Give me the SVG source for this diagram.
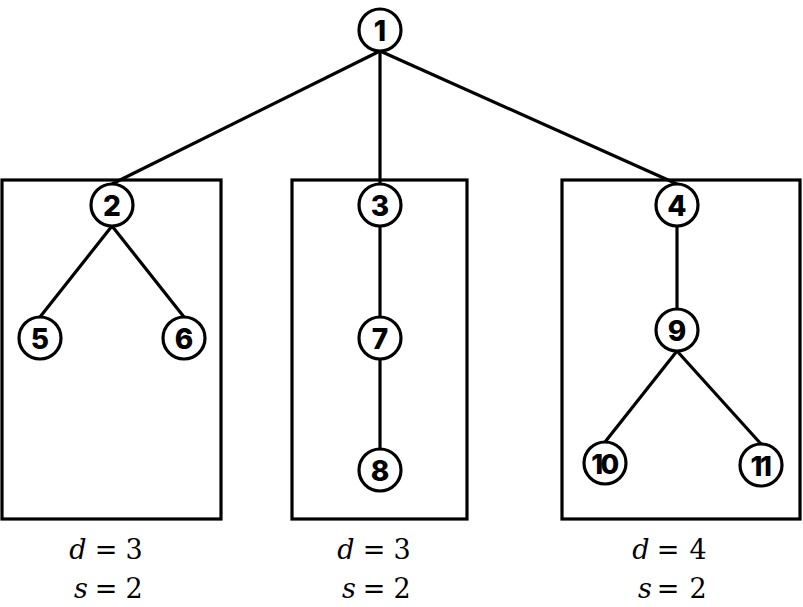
<svg xmlns="http://www.w3.org/2000/svg" width="803" height="607" viewBox="0 0 803 607">
<style>
.box{fill:none;stroke:#000;stroke-width:3.2}
.edge{stroke:#000;stroke-width:3.2;fill:none}
.node circle{fill:#fff;stroke:#000;stroke-width:3.2}
.node text{font-family:Inter,"Liberation Sans",sans-serif;font-weight:800;font-size:28px;text-anchor:middle;dominant-baseline:central}
.node.two text{font-size:27px;letter-spacing:-2.5px}
.lbl{font-family:'DejaVu Serif',serif;font-size:27px;text-anchor:middle}
.v{font-style:italic}
</style>
<rect class="box" x="2" y="180" width="219" height="339"/>
<rect class="box" x="292" y="180" width="175" height="339"/>
<rect class="box" x="562" y="180" width="238" height="339"/>
<g id="connectors">
<line class="edge" x1="380" y1="51" x2="112" y2="184"/>
<line class="edge" x1="380" y1="51" x2="380" y2="184"/>
<line class="edge" x1="380" y1="51" x2="677" y2="184"/>
<line class="edge" x1="112" y1="226" x2="40" y2="317"/>
<line class="edge" x1="112" y1="226" x2="184" y2="317"/>
<line class="edge" x1="380" y1="226" x2="380" y2="317"/>
<line class="edge" x1="380" y1="359" x2="380" y2="449"/>
<line class="edge" x1="677" y1="226" x2="677" y2="309"/>
<line class="edge" x1="677" y1="351" x2="605" y2="442"/>
<line class="edge" x1="677" y1="351" x2="761" y2="444"/>
</g>
<g id="n1" class="node"><circle cx="380" cy="30" r="21"/><text x="380" y="31">1</text></g>
<g id="n2" class="node"><circle cx="112" cy="205" r="21"/><text x="112" y="206">2</text></g>
<g id="n3" class="node"><circle cx="380" cy="205" r="21"/><text x="380" y="206">3</text></g>
<g id="n4" class="node"><circle cx="677" cy="205" r="21"/><text x="677" y="206">4</text></g>
<g id="n5" class="node"><circle cx="40" cy="338" r="21"/><text x="40" y="339">5</text></g>
<g id="n6" class="node"><circle cx="184" cy="338" r="21"/><text x="184" y="339">6</text></g>
<g id="n7" class="node"><circle cx="380" cy="338" r="21"/><text x="380" y="339">7</text></g>
<g id="n8" class="node"><circle cx="380" cy="470" r="21"/><text x="380" y="471">8</text></g>
<g id="n9" class="node"><circle cx="677" cy="330" r="21"/><text x="677" y="331">9</text></g>
<g id="n10" class="node two"><circle cx="605" cy="463" r="21"/><text x="604" y="464">10</text></g>
<g id="n11" class="node two"><circle cx="761" cy="465" r="21"/><text x="760" y="466">11</text></g>
<g id="labels">
<text class="lbl" y="559"><tspan class="v" x="78">d</tspan><tspan x="106">=</tspan><tspan x="134">3</tspan></text>
<text class="lbl" y="598"><tspan class="v" x="81">s</tspan><tspan x="106">=</tspan><tspan x="134">2</tspan></text>
<text class="lbl" y="559"><tspan class="v" x="346">d</tspan><tspan x="374">=</tspan><tspan x="402">3</tspan></text>
<text class="lbl" y="598"><tspan class="v" x="349">s</tspan><tspan x="374">=</tspan><tspan x="402">2</tspan></text>
<text class="lbl" y="559"><tspan class="v" x="641">d</tspan><tspan x="668">=</tspan><tspan x="698">4</tspan></text>
<text class="lbl" y="598"><tspan class="v" x="645">s</tspan><tspan x="668">=</tspan><tspan x="698">2</tspan></text>
</g>
</svg>
